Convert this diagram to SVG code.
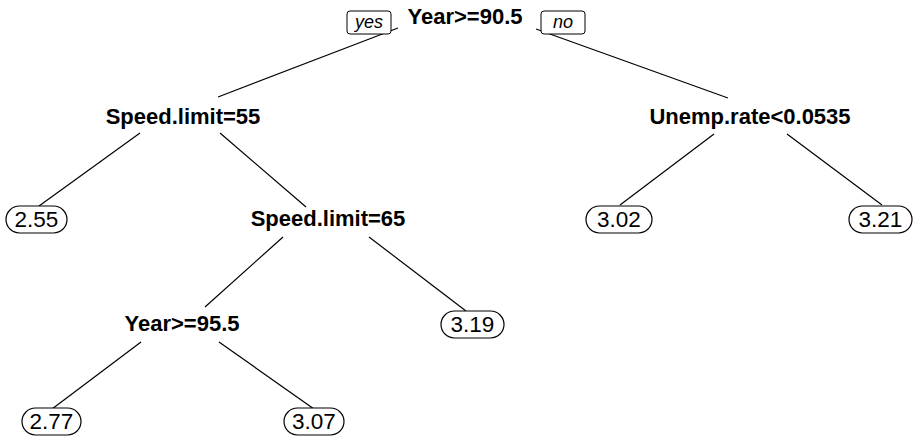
<svg xmlns="http://www.w3.org/2000/svg" width="916" height="445" viewBox="0 0 916 445">
<style>
.split{font-family:"Liberation Sans",Arial,sans-serif;font-weight:bold;font-size:22px;text-anchor:middle;fill:#000}
.leaf text{font-family:"Liberation Sans",Arial,sans-serif;font-size:22.5px;text-anchor:middle;fill:#000}
.leaf rect{fill:#fff;stroke:#000;stroke-width:1.2}
.lab rect{fill:#fff;stroke:#000;stroke-width:1}
.lab text{font-family:"Liberation Sans",Arial,sans-serif;font-style:italic;font-size:18px;text-anchor:middle}
#edges line{stroke:#000;stroke-width:1.2}
</style>
<rect width="916" height="445" fill="#fff"/>
<g id="edges">
<line x1="398" y1="28" x2="218" y2="97"/>
<line x1="536" y1="29" x2="728" y2="98"/>
<line x1="140" y1="133" x2="39" y2="206"/>
<line x1="220" y1="133" x2="306" y2="207"/>
<line x1="283" y1="237" x2="205" y2="307"/>
<line x1="369" y1="237" x2="466" y2="311"/>
<line x1="141" y1="342" x2="52" y2="409"/>
<line x1="219" y1="342" x2="314" y2="409"/>
<line x1="714" y1="134" x2="620" y2="205"/>
<line x1="787" y1="134" x2="882" y2="205"/>
</g>
<g id="n_root"><text class="split" x="465" y="24">Year&gt;=90.5</text></g>
<g id="lab_yes" class="lab"><rect x="347" y="11" width="44" height="23" rx="3"/><text x="369" y="28">yes</text></g>
<g id="lab_no" class="lab"><rect x="541" y="11" width="44" height="23" rx="3"/><text x="563" y="28">no</text></g>
<g id="n_speed55"><text class="split" x="183" y="124">Speed.limit=55</text></g>
<g id="n_unemp"><text class="split" x="750" y="124">Unemp.rate&lt;0.0535</text></g>
<g id="n_speed65"><text class="split" x="328" y="226">Speed.limit=65</text></g>
<g id="n_year955"><text class="split" x="182" y="331">Year&gt;=95.5</text></g>
<g id="leaf_255" class="leaf"><rect x="6" y="206" width="61" height="27" rx="13.5"/><text x="36.5" y="227">2.55</text></g>
<g id="leaf_302" class="leaf"><rect x="586" y="206" width="66" height="27" rx="13.5"/><text x="619" y="227">3.02</text></g>
<g id="leaf_321" class="leaf"><rect x="849" y="206" width="63" height="27" rx="13.5"/><text x="880.5" y="227">3.21</text></g>
<g id="leaf_319" class="leaf"><rect x="441" y="311" width="63" height="27" rx="13.5"/><text x="472.5" y="332">3.19</text></g>
<g id="leaf_277" class="leaf"><rect x="22" y="408" width="59" height="27" rx="13.5"/><text x="51.5" y="429">2.77</text></g>
<g id="leaf_307" class="leaf"><rect x="284" y="408" width="60" height="27" rx="13.5"/><text x="314" y="429">3.07</text></g>
</svg>
